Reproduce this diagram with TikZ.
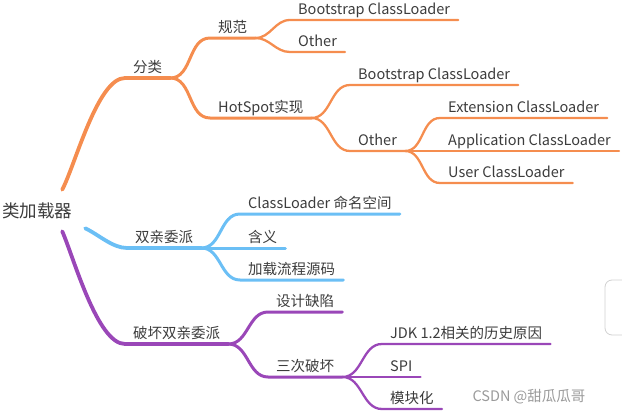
\documentclass[tikz,border=0pt]{standalone}
\usepackage{fontspec}
\usepackage{tikz}
\usetikzlibrary{calc,positioning}
\newfontfamily\cjk{Noto Sans CJK SC}
\definecolor{txt}{HTML}{3C3C3C}
\definecolor{orng}{HTML}{F58D4F}
\definecolor{sky}{HTML}{6BBFF5}
\definecolor{plum}{HTML}{9A47B8}
\definecolor{mark}{HTML}{9A9A9A}

\begin{document}
\begin{tikzpicture}[x=1pt, y=-1pt,
  rootnode/.style={
    font=\cjk\fontsize{17.5}{20}\selectfont,
    text=txt,
    inner sep=0pt
  },
  topic/.style={
    anchor=south west,
    font=\cjk\fontsize{14.5}{17}\selectfont,
    text=txt,
    inner xsep=8pt,
    inner ysep=2pt,
    text height=11pt,
    text depth=3pt
  },
  mainln/.style={line width=3.8pt, line cap=round},
  subln/.style={line width=3pt, line cap=round},
  leafln/.style={line width=2.3pt, line cap=round}
  ]

  \useasboundingbox (0,0) rectangle (622,415);

  % root
  \node[rootnode] (root) at (37,211) {类加载器};

  % orange: classification
  \begin{scope}
    \node[topic] (fenlei) at (125,78) {分类};
    \node[topic] (guifan) at (210,38) {规范};
    \node[topic] (hotspot) at (210,118) {HotSpot实现};
    \node[topic] (gf-boot) at (290,20) {Bootstrap ClassLoader};
    \node[topic] (gf-other) at (290,52) {Other};
    \node[topic] (hs-boot) at (350,85) {Bootstrap ClassLoader};
    \node[topic] (hs-other) at (350,151) {Other};
    \node[topic] (ext) at (440,118) {Extension ClassLoader};
    \node[topic] (app) at (440,151) {Application ClassLoader};
    \node[topic] (user) at (440,183) {User ClassLoader};
  \end{scope}

  % blue: parent delegation
  \begin{scope}
    \node[topic] (shuangqin) at (127,248) {双亲委派};
    \node[topic] (namespace) at (240,214) {ClassLoader 命名空间};
    \node[topic] (hanyi) at (240,248) {含义};
    \node[topic] (source) at (240,280) {加载流程源码};
  \end{scope}

  % purple: breaking it
  \begin{scope}
    \node[topic] (pohuai) at (125,344) {破坏双亲委派};
    \node[topic] (quexian) at (268,312) {设计缺陷};
    \node[topic] (sanci) at (268,377) {三次破坏};
    \node[topic] (jdk) at (382,344) {JDK 1.2相关的历史原因};
    \node[topic] (spi) at (382,377) {SPI};
    \node[topic] (mokuai) at (382,409) {模块化};
  \end{scope}

  \draw[orng, mainln] ([xshift=-10pt,yshift=13pt]root.north east) to[out=62, in=180, looseness=0.55] (fenlei.south west) -- (fenlei.south east);
  \draw[orng, subln] (fenlei.south east) to[out=0, in=180] (guifan.south west) -- (guifan.south east);
  \draw[orng, subln] (fenlei.south east) to[out=0, in=180] (hotspot.south west) -- (hotspot.south east);
  \foreach \n in {gf-boot, gf-other}
    \draw[orng, leafln] (guifan.south east) to[out=0, in=180] (\n.south west) -- (\n.south east);
  \foreach \n in {hs-boot, hs-other}
    \draw[orng, leafln] (hotspot.south east) to[out=0, in=180] (\n.south west) -- (\n.south east);
  \foreach \n in {ext, app, user}
    \draw[orng, leafln] (hs-other.south east) to[out=0, in=180] (\n.south west) -- (\n.south east);

  \draw[sky, mainln] ([xshift=13pt,yshift=-9pt]root.south east) to[out=-25, in=180, looseness=0.8] (shuangqin.south west) -- (shuangqin.south east);
  \foreach \n in {namespace, hanyi, source}
    \draw[sky, subln] (shuangqin.south east) to[out=0, in=180] (\n.south west) -- (\n.south east);

  \draw[plum, mainln] ([xshift=-10pt,yshift=-12pt]root.south east) to[out=-66, in=180, looseness=0.55] (pohuai.south west) -- (pohuai.south east);
  \foreach \n in {quexian, sanci}
    \draw[plum, subln] (pohuai.south east) to[out=0, in=180] (\n.south west) -- (\n.south east);
  \foreach \n in {jdk, spi, mokuai}
    \draw[plum, leafln] (sanci.south east) to[out=0, in=180] (\n.south west) -- (\n.south east);

  % watermark and side tab
  \node[font=\cjk\fontsize{14.5}{17}\selectfont, text=mark, anchor=west] (wm) at (469,397) {CSDN @甜瓜瓜哥};
  \draw[black!18, fill=white, rounded corners=7pt, line width=0.8pt] (605,280) rectangle (640,335);

\end{tikzpicture}
\end{document}
